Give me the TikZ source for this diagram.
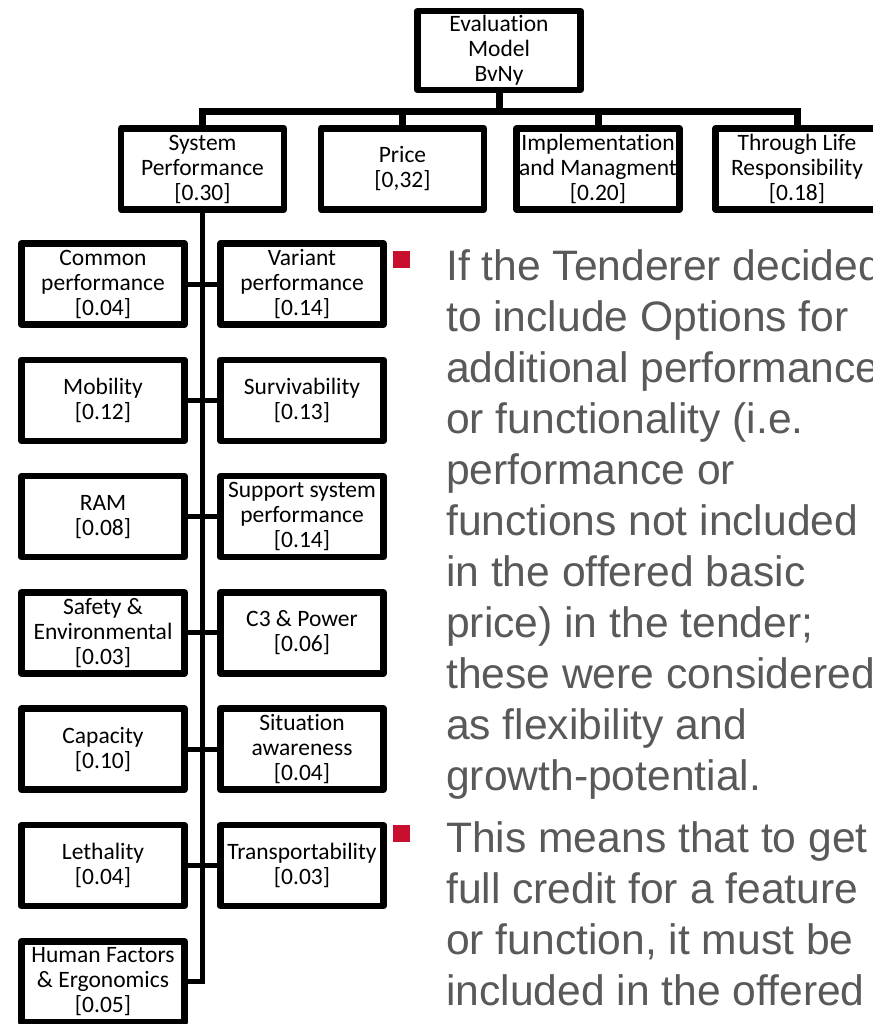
\documentclass[tikz,border=0pt]{standalone}
\usepackage{fontspec}
\usepackage{tikz}
\newfontfamily\boxfont[Ligatures=NoCommon]{Carlito}
\newfontfamily\slidefont{Liberation Sans}
\definecolor{slidegray}{HTML}{595959}
\definecolor{bulletred}{HTML}{C8102E}
\tikzstyle{crit}=[draw,line width=6.5bp,line join=round,minimum width=163bp,minimum height=81bp,
  inner sep=0pt,align=center,font=\boxfont\fontsize{23.5bp}{25bp}\selectfont]
\tikzstyle{trunk}=[line width=7bp]
\tikzstyle{link}=[line width=5bp]
\tikzstyle{bulletbox}=[fill=bulletred,minimum size=17bp,inner sep=0pt]
\tikzstyle{slideline}=[anchor=base west,inner sep=0pt,text=slidegray,
  font=\slidefont\fontsize{42.6bp}{51bp}\selectfont]

\begin{document}
\begin{tikzpicture}[x=1bp,y=-1bp]
  \clip (0,0) rectangle (873,1024);
  % top of the tree
  \node[crit,minimum height=79bp] (model) at (499,50.5) {Evaluation\\Model\\BvNy};
  \foreach \name/\xpos/\txt in {sysperf/202.5/{System\\Performance\\{[0.30]}},
                                price/402.5/{Price\\{[0,32]}},
                                impl/598/{Implementation\\and Managment\\{[0.20]}},
                                life/797/{Through Life\\Responsibility\\{[0.18]}}}
    \node[crit] (\name) at (\xpos,169) {\txt};
  \coordinate (bar) at (0,111);
  \draw[trunk] (model.south) -- (model.south |- bar);
  \draw[trunk] (sysperf.north) -- (sysperf.north |- bar) -- (life.north |- bar) -- (life.north);
  \foreach \name in {price,impl}
    \draw[trunk] (\name.north) -- (\name.north |- bar);
  % system performance criteria
  \foreach \name/\row/\txt in {common/0/{Common\\performance\\{[0.04]}},
                               mobility/1/{Mobility\\{[0.12]}},
                               ram/2/{RAM\\{[0.08]}},
                               safety/3/{Safety \&\\Environmental\\{[0.03]}},
                               capacity/4/{Capacity\\{[0.10]}},
                               lethality/5/{Lethality\\{[0.04]}},
                               human/6/{Human Factors\\\& Ergonomics\\{[0.05]}}}
    \node[crit] (\name) at (103,284+116.3*\row) {\txt};
  \foreach \name/\row/\txt in {variant/0/{Variant\\performance\\{[0.14]}},
                               surviv/1/{Survivability\\{[0.13]}},
                               support/2/{Support system\\performance\\{[0.14]}},
                               power/3/{C3 \& Power\\{[0.06]}},
                               aware/4/{Situation\\awareness\\{[0.04]}},
                               transport/5/{Transportability\\{[0.03]}}}
    \node[crit] (\name) at (302,284+116.3*\row) {\txt};
  \draw[link] (sysperf.south) |- (human.east);
  \foreach \from/\to in {common/variant,mobility/surviv,ram/support,
                         safety/power,capacity/aware,lethality/transport}
    \draw[link] (\from.east) -- (\to.west);
  % bullet text
  \node[bulletbox] (dot1) at (401.5,259.5) {};
  \node[bulletbox] (dot2) at (401.5,833.5) {};
  \foreach \i/\txt in {0/If the Tenderer decided, 1/to include Options for,
                       2/additional performance, 3/or functionality (i.e.,
                       4/performance or, 5/functions not included,
                       6/in the offered basic, 7/price) in the tender;,
                       8/these were considered, 9/as flexibility and,
                       10/growth-potential.}
    \node[slideline] (first-\i) at (446,280+51*\i) {\txt};
  \foreach \i/\txt in {0/This means that to get, 1/full credit for a feature,
                       2/{or function, it must be}, 3/included in the offered}
    \node[slideline] (second-\i) at (446,852+51*\i) {\txt};
\end{tikzpicture}
\end{document}
